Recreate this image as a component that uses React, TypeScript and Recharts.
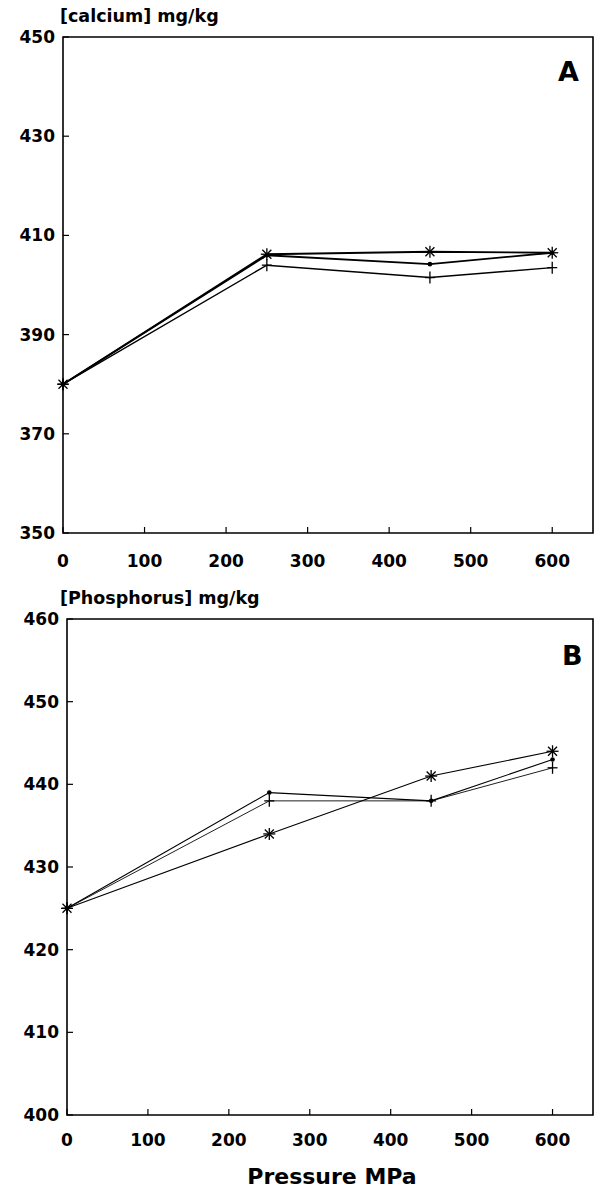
import React from "react";
import { LineChart, Line, XAxis, YAxis, ReferenceArea } from "recharts";

const pressure = [0, 250, 450, 600];
const calciumDot = [380, 406, 404.2, 406.5];
const calciumPlus = [380, 404, 401.5, 403.5];
const calciumStar = [380, 406.2, 406.7, 406.5];
const phosphorusDot = [425, 439, 438, 443];
const phosphorusPlus = [425, 438, 438, 442];
const phosphorusStar = [425, 434, 441, 444];

const xTicks = [0, 100, 200, 300, 400, 500, 600];
const calciumTicks = [350, 370, 390, 410, 430, 450];
const phosphorusTicks = [400, 410, 420, 430, 440, 450, 460];

const FONT = '"DejaVu Sans", "Liberation Sans", Arial, sans-serif';

const buildRows = (dot: number[], plus: number[], star: number[]) =>
  pressure.map((p, i) => ({ p, dot: dot[i], plus: plus[i], star: star[i] }));

const calciumRows = buildRows(calciumDot, calciumPlus, calciumStar);
const phosphorusRows = buildRows(phosphorusDot, phosphorusPlus, phosphorusStar);

const DotMark = (props: any) => {
  const { cx, cy, index } = props;
  return <circle key={`d-${index}`} cx={cx} cy={cy} r={2.3} fill="#000" />;
};

const PlusMark = (props: any) => {
  const { cx, cy, index } = props;
  return (
    <g key={`p-${index}`} stroke="#000" strokeWidth={1.3}>
      <line x1={cx - 5} y1={cy} x2={cx + 5} y2={cy} />
      <line x1={cx} y1={cy - 6} x2={cx} y2={cy + 6} />
    </g>
  );
};

const StarMark = (props: any) => {
  const { cx, cy, index } = props;
  const s = 6;
  const d = 4.5;
  return (
    <g key={`s-${index}`} stroke="#000" strokeWidth={1.3}>
      <line x1={cx - s} y1={cy} x2={cx + s} y2={cy} />
      <line x1={cx} y1={cy - s} x2={cx} y2={cy + s} />
      <line x1={cx - d} y1={cy - d} x2={cx + d} y2={cy + d} />
      <line x1={cx - d} y1={cy + d} x2={cx + d} y2={cy - d} />
    </g>
  );
};

const YTick = (props: any) => {
  const { x, y, payload } = props;
  return (
    <g>
      <line x1={x} y1={y} x2={x + 6} y2={y} stroke="#000" strokeWidth={1.2} />
      <text
        x={x - 8}
        y={y + 6}
        textAnchor="end"
        fontFamily={FONT}
        fontWeight="bold"
        fontSize={17}
        fill="#000"
      >
        {payload.value}
      </text>
    </g>
  );
};

const XTick = (props: any) => {
  const { x, y, payload, gap } = props;
  return (
    <g>
      <line x1={x} y1={y} x2={x} y2={y - 6} stroke="#000" strokeWidth={1.2} />
      <text
        x={x}
        y={y + gap}
        textAnchor="middle"
        fontFamily={FONT}
        fontWeight="bold"
        fontSize={17}
        fill="#000"
      >
        {payload.value}
      </text>
    </g>
  );
};

const textStyle: React.CSSProperties = {
  position: "absolute",
  fontFamily: FONT,
  fontWeight: "bold",
  color: "#000",
  whiteSpace: "nowrap",
  lineHeight: 1,
};

const Panel = ({
  rows,
  width,
  height,
  top,
  left,
  plotBottom,
  yDomain,
  yTicks,
  lineWidth,
  labelGap,
}: any) => (
  <LineChart
    width={width}
    height={height}
    data={rows}
    margin={{ top, right: 1, left: 0, bottom: 0 }}
  >
    <XAxis
      dataKey="p"
      type="number"
      domain={[0, 650]}
      ticks={xTicks}
      tick={<XTick gap={labelGap} />}
      tickLine={false}
      tickSize={0}
      tickMargin={0}
      axisLine={false}
      height={height - plotBottom}
      interval={0}
    />
    <YAxis
      type="number"
      domain={yDomain}
      ticks={yTicks}
      tick={<YTick />}
      tickLine={false}
      tickSize={0}
      tickMargin={0}
      axisLine={false}
      width={left}
      interval={0}
    />
    <ReferenceArea
      x1={0}
      x2={650}
      y1={yDomain[0]}
      y2={yDomain[1]}
      fill="none"
      stroke="#000"
      strokeWidth={1.6}
    />
    <Line
      dataKey="dot"
      stroke="#000"
      strokeWidth={lineWidth}
      dot={DotMark}
      activeDot={false}
      isAnimationActive={false}
    />
    <Line
      dataKey="plus"
      stroke="#000"
      strokeWidth={lineWidth * 0.8}
      dot={PlusMark}
      activeDot={false}
      isAnimationActive={false}
    />
    <Line
      dataKey="star"
      stroke="#000"
      strokeWidth={lineWidth}
      dot={StarMark}
      activeDot={false}
      isAnimationActive={false}
    />
  </LineChart>
);

export default function App() {
  return (
    <div
      style={{
        position: "absolute",
        left: 0,
        top: 0,
        width: 594,
        height: 1191,
        background: "#fff",
      }}
    >
      <div style={{ position: "absolute", left: 0, top: 0 }}>
        <Panel
          rows={calciumRows}
          width={594}
          height={590}
          top={37}
          left={63}
          plotBottom={533}
          yDomain={[350, 450]}
          yTicks={calciumTicks}
          lineWidth={1.8}
          labelGap={34}
        />
      </div>
      <div style={{ position: "absolute", left: 0, top: 590 }}>
        <Panel
          rows={phosphorusRows}
          width={594}
          height={601}
          top={29}
          left={67}
          plotBottom={525}
          yDomain={[400, 460]}
          yTicks={phosphorusTicks}
          lineWidth={1.1}
          labelGap={31}
        />
      </div>
      <div style={{ ...textStyle, left: 60, top: 8, fontSize: 17.5 }}>
        [calcium] mg/kg
      </div>
      <div style={{ ...textStyle, left: 558, top: 58, fontSize: 27 }}>A</div>
      <div style={{ ...textStyle, left: 60, top: 590, fontSize: 17.5 }}>
        [Phosphorus] mg/kg
      </div>
      <div style={{ ...textStyle, left: 562, top: 642, fontSize: 27 }}>B</div>
      <div
        style={{
          ...textStyle,
          left: 0,
          width: 594,
          paddingLeft: 70,
          boxSizing: "border-box",
          textAlign: "center",
          top: 1166,
          fontSize: 22,
        }}
      >
        Pressure MPa
      </div>
    </div>
  );
}
